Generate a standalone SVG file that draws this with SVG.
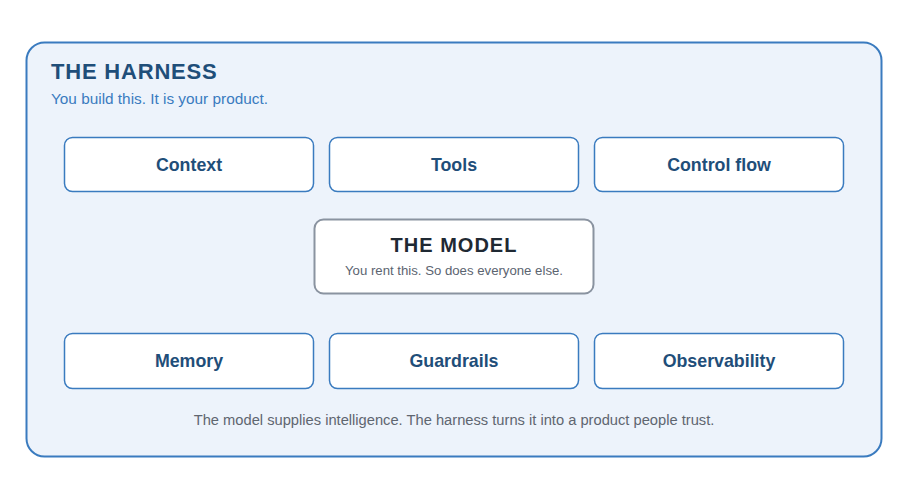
<svg xmlns="http://www.w3.org/2000/svg" width="908" height="498" viewBox="0 0 908 498">
<style>
text{font-family:"Liberation Sans",Arial,sans-serif}
.card{fill:#ffffff;stroke:#3a7bbf;stroke-width:1.5}
.lbl{font-size:17.8px;font-weight:bold;fill:#1f4e79;text-anchor:middle}
</style>
<rect width="908" height="498" fill="#ffffff"/>
<g id="harness">
<rect x="26.5" y="42.5" width="855" height="414" rx="18" fill="#edf3fb" stroke="#3a7bbf" stroke-width="2"/>
<text x="51" y="79" font-size="22" font-weight="bold" fill="#1f4e79" letter-spacing="0.8">THE HARNESS</text>
<text x="51" y="104" font-size="15.35" fill="#3a7bbf">You build this. It is your product.</text>
<text x="454" y="425" font-size="14.7" fill="#5f6670" text-anchor="middle">The model supplies intelligence. The harness turns it into a product people trust.</text>
</g>
<g id="context"><rect class="card" x="64.5" y="137.5" width="249" height="54" rx="8"/><text class="lbl" x="189" y="171">Context</text></g>
<g id="tools"><rect class="card" x="329.5" y="137.5" width="249" height="54" rx="8"/><text class="lbl" x="454" y="171">Tools</text></g>
<g id="controlflow"><rect class="card" x="594.5" y="137.5" width="249" height="54" rx="8"/><text class="lbl" x="719" y="171">Control flow</text></g>
<g id="model"><rect x="314.5" y="219.5" width="279" height="74" rx="9" fill="#ffffff" stroke="#8a93a0" stroke-width="2"/>
<text x="454" y="252" font-size="20" font-weight="bold" fill="#1f2933" text-anchor="middle" letter-spacing="1">THE MODEL</text>
<text x="454" y="275" font-size="13.2" fill="#5b6470" text-anchor="middle">You rent this. So does everyone else.</text></g>
<g id="memory"><rect class="card" x="64.5" y="333.5" width="249" height="55" rx="8"/><text class="lbl" x="189" y="367">Memory</text></g>
<g id="guardrails"><rect class="card" x="329.5" y="333.5" width="249" height="55" rx="8"/><text class="lbl" x="454" y="367">Guardrails</text></g>
<g id="observability"><rect class="card" x="594.5" y="333.5" width="249" height="55" rx="8"/><text class="lbl" x="719" y="367">Observability</text></g>
<g id="connectors"></g>
</svg>
